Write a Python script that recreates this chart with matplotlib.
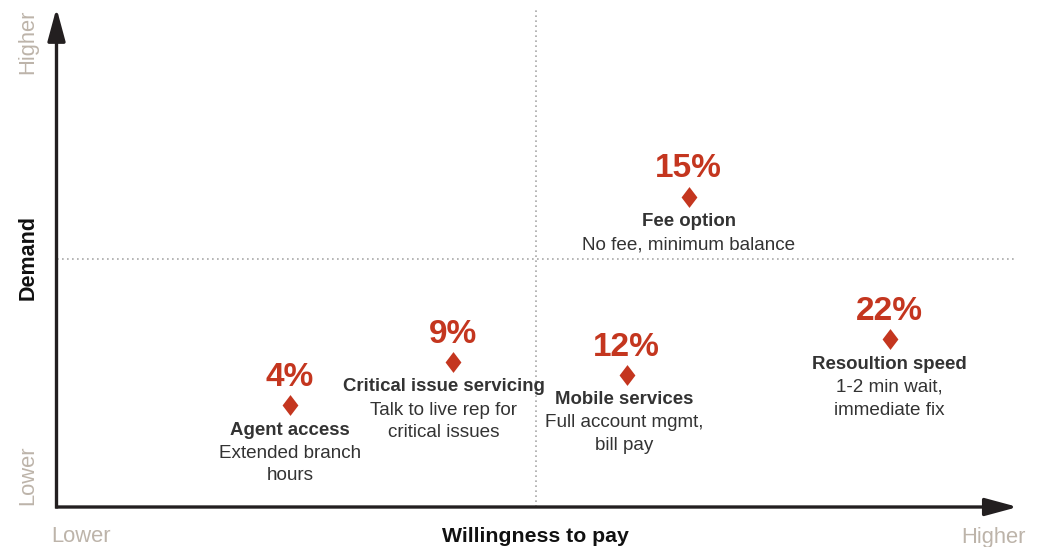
import matplotlib.pyplot as plt
from matplotlib.path import Path

plt.rcParams["font.family"] = ["Liberation Sans", "DejaVu Sans"]

# data
categories = ["Agent access", "Critical issue servicing", "Mobile services",
              "Fee option", "Resoultion speed"]
descriptions = ["Extended branch\nhours", "Talk to live rep for\ncritical issues",
                "Full account mgmt,\nbill pay", "No fee, minimum balance",
                "1-2 min wait,\nimmediate fix"]
shares = [4, 9, 12, 15, 22]
willingness = [2.44, 4.15, 5.96, 6.61, 8.71]
demand = [2.06, 2.93, 2.67, 6.27, 3.39]

RED = "#C4361F"
DARK = "#231F20"
TEXT = "#333333"
PALE = "#BDB4AA"
GRID = "#A8A8A8"

# small horizontal nudges of label blocks (points)
LABEL_DX = {"Critical issue servicing": -7, "Mobile services": -2}

DIAMOND = Path([(0, 1), (0.76, 0), (0, -1), (-0.76, 0), (0, 1)],
               [Path.MOVETO, Path.LINETO, Path.LINETO, Path.LINETO, Path.CLOSEPOLY])

W, H = 1038, 547
fig = plt.figure(figsize=(W / 100, H / 100), dpi=100)
ax = fig.add_axes([56.5 / W, 1 - 507 / H, (1013 - 56.5) / W, (507 - 12) / H])
ax.set_xlim(0, 10)
ax.set_ylim(0, 10)
ax.axis("off")

# quadrant dividers
ax.plot([5.01, 5.01], [0, 10.05], ls=(0, (1, 2)), color=GRID, lw=1.2, clip_on=False)
ax.plot([0, 10.02], [5.01, 5.01], ls=(0, (1, 2)), color=GRID, lw=1.2, clip_on=False)

# axis arrows
arrow = dict(arrowstyle="-|>,head_length=1.0,head_width=0.27", color=DARK, lw=2.4,
             shrinkA=0, shrinkB=0, mutation_scale=20, capstyle="butt")
ax.annotate("", xy=(0, 10.08), xytext=(0, -0.03), arrowprops=arrow, annotation_clip=False)
ax.annotate("", xy=(10.05, 0), xytext=(-0.013, 0), arrowprops=arrow, annotation_clip=False)

# points and labels
ax.scatter(willingness, demand, marker=DIAMOND, s=225, color=RED, zorder=3, linewidths=0)
for name, desc, share, x, y in zip(categories, descriptions, shares, willingness, demand):
    dx = LABEL_DX.get(name, 0)
    ax.annotate(f"{share}%", (x, y), xytext=(0, 20), textcoords="offset points",
                ha="center", va="center", fontsize=24, fontweight="bold", color=RED)
    ax.annotate(name, (x, y), xytext=(dx, -18), textcoords="offset points",
                ha="center", va="center", fontsize=13.4, fontweight="bold", color=TEXT)
    ax.annotate(desc, (x, y), xytext=(dx, -28.5), textcoords="offset points",
                ha="center", va="top", fontsize=13.6, color=TEXT, linespacing=1.45,
                multialignment="center")

# axis titles and end labels
fig.text(28 / W, 1 - 258 / H, "Demand", rotation=90, ha="center", va="center",
         fontsize=15.5, fontweight="bold", color="#111111")
fig.text(535 / W, 1 - 537 / H, "Willingness to pay", ha="center", va="center",
         fontsize=15.3, fontweight="bold", color="#111111")
fig.text(28 / W, 1 - 42 / H, "Higher", rotation=90, ha="center", va="center",
         fontsize=15.8, color=PALE)
fig.text(28 / W, 1 - 475 / H, "Lower", rotation=90, ha="center", va="center",
         fontsize=15.8, color=PALE)
fig.text(81 / W, 1 - 537 / H, "Lower", ha="center", va="center", fontsize=15.8, color=PALE)
fig.text(993 / W, 1 - 537 / H, "Higher", ha="center", va="center", fontsize=15.8, color=PALE)

fig.savefig("out.png", dpi=100)
plt.close(fig)
